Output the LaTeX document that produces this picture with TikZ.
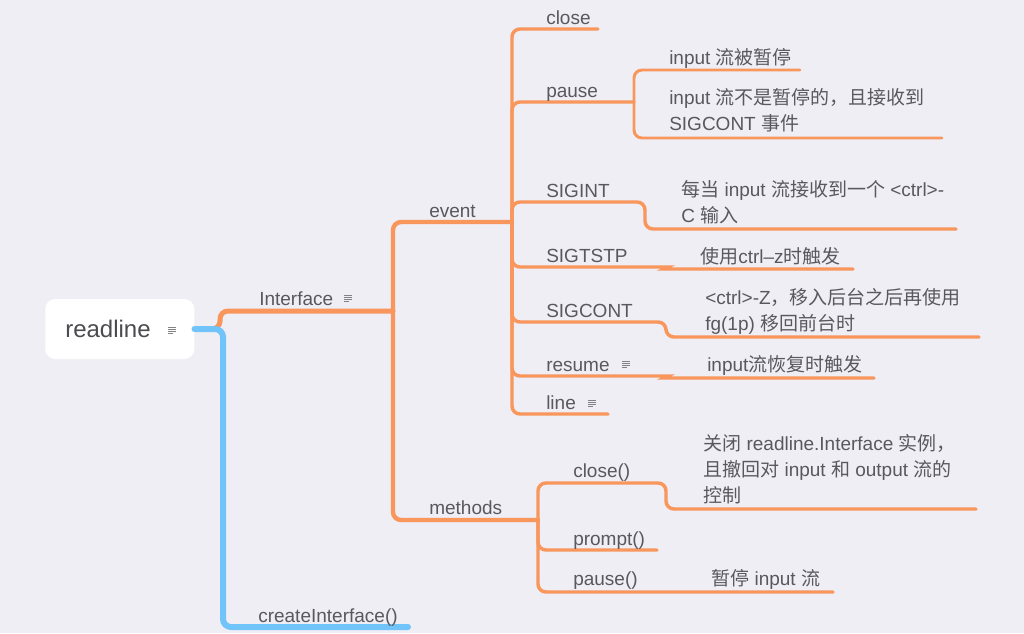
\documentclass[tikz,border=0pt]{standalone}
\usepackage{fontspec}
\setmainfont{Liberation Sans}
\newfontfamily\cjk{Noto Sans CJK SC}
\newcommand\zh[1]{{\cjk #1}}
\definecolor{branch}{RGB}{248,150,92}
\definecolor{trunk}{RGB}{112,196,250}
\definecolor{paper}{RGB}{239,238,244}
\definecolor{ink}{RGB}{88,88,94}
\begin{document}
\begin{tikzpicture}[x=0.75pt,y=-0.75pt,
  lbl/.style={anchor=base west,inner sep=0pt,text=ink,align=left,
    font=\fontsize{14.25}{19.5}\selectfont},
  rootbox/.style={fill=white,rounded corners=7.5pt,anchor=west,text=ink!85!black,
    text width=81.75pt,align=left,inner xsep=15pt,minimum height=45pt,
    font=\fontsize{18}{20}\selectfont},
  trunkline/.style={draw=trunk,line width=4.5pt,line cap=round,rounded corners=6pt},
  br1/.style={draw=branch,line width=3.75pt,line cap=round,rounded corners=6pt},
  br2/.style={draw=branch,line width=3.3pt,line cap=round,rounded corners=6pt},
  br3/.style={draw=branch,line width=2.6pt,line cap=round,rounded corners=6pt},
  br4/.style={draw=branch,line width=2.2pt,line cap=round,rounded corners=6pt},
  noteicon/.pic={\draw[ink!75,line width=0.7pt] (-4,-3)--(4,-3) (-4,-1)--(4,-1) (-4,1)--(4,1) (-4,3)--(1,3);}
]
\fill[paper] (0,0) rectangle (1024,633);
\useasboundingbox (0,0) rectangle (1024,633);

\node[rootbox] (root) at (45,329) {readline};
\pic at (172,330) {noteicon};

\coordinate (jI) at (393,311);
\coordinate (jE) at (512,222);
\coordinate (jP) at (634,102);
\coordinate (jM) at (538,520);

\draw[br1] (root.east) -- (220,329) -- (220,311) -- (jI);
\draw[trunkline] (root.east) -- (223,329) -- (223,627) -- (408,627) coordinate (ciEnd);
\draw[br2] (jI) |- (jE);
\draw[br2] (jI) |- (jM);

\draw[br3] (jE) |- (598,29) coordinate (closeEnd);
\draw[br3] (jE) |- (jP);
\draw[br3] (jE) |- (645,202) -- (645,229) -- (956,229) coordinate (sigintEnd);
\draw[br3] (jE) |- (660,267) to[out=0,in=180] (672,269) -- (853,269) coordinate (sigtstpEnd);
\draw[br3] (jE) |- (666,322) -- (666,337) -- (979,337) coordinate (sigcontEnd);
\draw[br3] (jE) |- (660,376) to[out=0,in=180] (672,378) -- (874,378) coordinate (resumeEnd);
\draw[br3] (jE) |- (608,414) coordinate (lineEnd);

\draw[br4] (jP) |- (800,70) coordinate (pausedEnd);
\draw[br4] (jP) |- (942,138) coordinate (notPausedEnd);

\draw[br3] (jM) |- (666,483) -- (666,509) -- (976,509) coordinate (mcloseEnd);
\draw[br3] (jM) |- (657,550) coordinate (promptEnd);
\draw[br3] (jM) |- (833,592) coordinate (mpauseEnd);

\node[lbl] (iface) at (259,305) {Interface};
\pic at (348,298) {noteicon};
\node[lbl] (create) at (258,622) {createInterface()};
\node[lbl] (event) at (429,217) {event};
\node[lbl] (methods) at (429,514) {methods};

\node[lbl] (close) at (546,24) {close};
\node[lbl] (pause) at (546,97) {pause};
\node[lbl] (sigint) at (546,197) {SIGINT};
\node[lbl] (sigtstp) at (546,262) {SIGTSTP};
\node[lbl] (sigcont) at (546,317) {SIGCONT};
\node[lbl] (resume) at (546,371) {resume};
\pic at (626,364) {noteicon};
\node[lbl] (line) at (546,409) {line};
\pic at (592,403) {noteicon};

\node[lbl] (paused) at (669,64) {input \zh{流被暂停}};
\node[lbl] (notpaused) at (669,130) {input \zh{流不是暂停的，且接收到}\\SIGCONT \zh{事件}};
\node[lbl] (sigintTxt) at (681,222) {\zh{每当} input \zh{流接收到一个} <ctrl>-\\C \zh{输入}};
\node[lbl] (sigtstpTxt) at (700,263) {\zh{使用}ctrl–z\zh{时触发}};
\node[lbl] (sigcontTxt) at (705,330) {<ctrl>-Z\zh{，移入后台之后再使用}\\fg(1p) \zh{移回前台时}};
\node[lbl] (resumeTxt) at (707,371) {input\zh{流恢复时触发}};

\node[lbl] (mclose) at (573,477) {close()};
\node[lbl] (prompt) at (573,545) {prompt()};
\node[lbl] (mpause) at (573,585) {pause()};
\node[lbl] (mcloseTxt) at (703,502) {\zh{关闭} readline.Interface \zh{实例，}\\\zh{且撤回对} input \zh{和} output \zh{流的}\\\zh{控制}};
\node[lbl] (mpauseTxt) at (711,585) {\zh{暂停} input \zh{流}};
\end{tikzpicture}
\end{document}
